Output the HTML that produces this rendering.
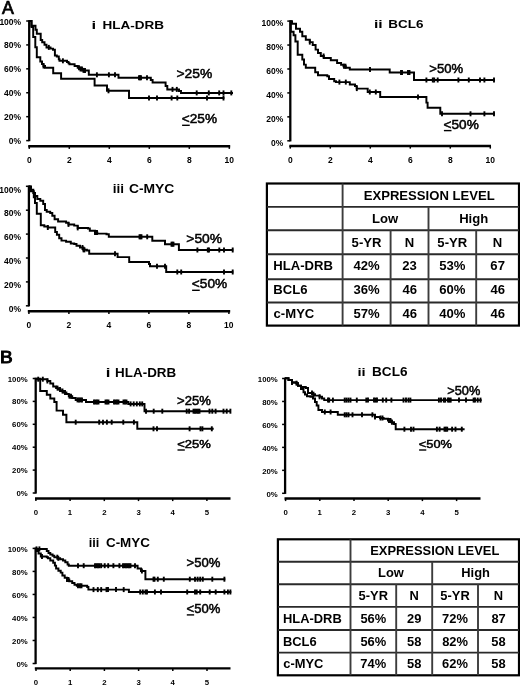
<!DOCTYPE html>
<html><head><meta charset="utf-8"><style>
html,body{margin:0;padding:0;background:#fff;width:520px;height:685px;overflow:hidden;}
svg{display:block;will-change:transform;}
text{font-family:"Liberation Sans",sans-serif;fill:#000;}
svg{stroke:#000;}
text{stroke:none;}
.gl{stroke:#000;stroke-width:0.5px;}
</style></head><body>
<svg width="520" height="685" viewBox="0 0 520 685">

<text x="1.97" y="13.50" font-size="17.44" font-weight="normal" textLength="11.87" lengthAdjust="spacingAndGlyphs" class="gl" style="stroke-width:0.7px">A</text>
<line x1="29.20" y1="20.20" x2="29.20" y2="141.20" stroke-width="2.30"/>
<line x1="26.20" y1="21.00" x2="29.20" y2="21.00" stroke-width="1.50"/>
<text x="-0.62" y="24.57" font-size="8.50" font-weight="bold" textLength="21.74" lengthAdjust="spacingAndGlyphs">100%</text>
<line x1="26.20" y1="44.92" x2="29.20" y2="44.92" stroke-width="1.50"/>
<text x="4.11" y="48.49" font-size="8.50" font-weight="bold" textLength="17.01" lengthAdjust="spacingAndGlyphs">80%</text>
<line x1="26.20" y1="68.84" x2="29.20" y2="68.84" stroke-width="1.50"/>
<text x="4.11" y="72.41" font-size="8.50" font-weight="bold" textLength="17.01" lengthAdjust="spacingAndGlyphs">60%</text>
<line x1="26.20" y1="92.76" x2="29.20" y2="92.76" stroke-width="1.50"/>
<text x="4.11" y="96.33" font-size="8.50" font-weight="bold" textLength="17.01" lengthAdjust="spacingAndGlyphs">40%</text>
<line x1="26.20" y1="116.68" x2="29.20" y2="116.68" stroke-width="1.50"/>
<text x="4.11" y="120.25" font-size="8.50" font-weight="bold" textLength="17.01" lengthAdjust="spacingAndGlyphs">20%</text>
<line x1="26.20" y1="140.60" x2="29.20" y2="140.60" stroke-width="1.50"/>
<text x="8.84" y="144.17" font-size="8.50" font-weight="bold" textLength="12.29" lengthAdjust="spacingAndGlyphs">0%</text>
<line x1="28.20" y1="146.30" x2="230.20" y2="146.30" stroke-width="2.40"/>
<line x1="29.30" y1="146.30" x2="29.30" y2="148.90" stroke-width="1.50"/>
<text x="26.94" y="163.27" font-size="8.50" font-weight="bold" textLength="4.73" lengthAdjust="spacingAndGlyphs">0</text>
<line x1="69.30" y1="146.30" x2="69.30" y2="148.90" stroke-width="1.50"/>
<text x="66.96" y="163.27" font-size="8.50" font-weight="bold" textLength="4.73" lengthAdjust="spacingAndGlyphs">2</text>
<line x1="109.30" y1="146.30" x2="109.30" y2="148.90" stroke-width="1.50"/>
<text x="106.89" y="163.27" font-size="8.50" font-weight="bold" textLength="4.73" lengthAdjust="spacingAndGlyphs">4</text>
<line x1="149.30" y1="146.30" x2="149.30" y2="148.90" stroke-width="1.50"/>
<text x="146.93" y="163.27" font-size="8.50" font-weight="bold" textLength="4.73" lengthAdjust="spacingAndGlyphs">6</text>
<line x1="189.30" y1="146.30" x2="189.30" y2="148.90" stroke-width="1.50"/>
<text x="186.93" y="163.27" font-size="8.50" font-weight="bold" textLength="4.73" lengthAdjust="spacingAndGlyphs">8</text>
<line x1="229.30" y1="146.30" x2="229.30" y2="148.90" stroke-width="1.50"/>
<text x="224.48" y="163.27" font-size="8.50" font-weight="bold" textLength="9.45" lengthAdjust="spacingAndGlyphs">10</text>
<text x="91.43" y="29.00" font-size="10.76" font-weight="bold" textLength="4.66" lengthAdjust="spacingAndGlyphs">i</text>
<text x="102.50" y="29.00" font-size="11.34" font-weight="bold" textLength="61.52" lengthAdjust="spacingAndGlyphs">HLA-DRB</text>
<path d="M29.20 21.00 H31.50 V25.80 H35.50 V29.80 H36.80 V33.80 H40.70 V40.00 H42.20 V42.30 H44.50 V44.80 H46.50 V47.40 H50.50 V48.60 H53.00 V49.80 H54.90 V55.40 H56.80 V56.50 H58.80 V59.20 H59.50 V60.80 H67.00 V62.00 H68.50 V63.20 H69.50 V64.20 H74.60 V66.00 H77.70 V67.70 H80.50 V69.00 H83.50 V70.40 H88.80 V74.80 H118.50 V77.70 H150.80 V80.00 H152.60 V82.50 H165.60 V86.00 H167.30 V89.40 H179.00 V91.00 H181.00 V92.90 H233.00" stroke-width="1.95" fill="none"/>
<line x1="48.80" y1="44.90" x2="48.80" y2="49.90" stroke-width="1.90"/>
<line x1="62.90" y1="58.30" x2="62.90" y2="63.30" stroke-width="1.90"/>
<line x1="79.00" y1="65.20" x2="79.00" y2="70.20" stroke-width="1.90"/>
<line x1="80.50" y1="66.50" x2="80.50" y2="71.50" stroke-width="1.90"/>
<line x1="82.00" y1="66.50" x2="82.00" y2="71.50" stroke-width="1.90"/>
<line x1="83.50" y1="67.90" x2="83.50" y2="72.90" stroke-width="1.90"/>
<line x1="85.00" y1="67.90" x2="85.00" y2="72.90" stroke-width="1.90"/>
<line x1="96.90" y1="72.30" x2="96.90" y2="77.30" stroke-width="1.90"/>
<line x1="108.90" y1="72.30" x2="108.90" y2="77.30" stroke-width="1.90"/>
<line x1="115.00" y1="72.30" x2="115.00" y2="77.30" stroke-width="1.90"/>
<line x1="139.00" y1="75.20" x2="139.00" y2="80.20" stroke-width="1.90"/>
<line x1="140.00" y1="75.20" x2="140.00" y2="80.20" stroke-width="1.90"/>
<line x1="141.00" y1="75.20" x2="141.00" y2="80.20" stroke-width="1.90"/>
<line x1="147.00" y1="75.20" x2="147.00" y2="80.20" stroke-width="1.90"/>
<line x1="172.50" y1="86.90" x2="172.50" y2="91.90" stroke-width="1.90"/>
<line x1="176.80" y1="86.90" x2="176.80" y2="91.90" stroke-width="1.90"/>
<line x1="196.70" y1="90.40" x2="196.70" y2="95.40" stroke-width="1.90"/>
<line x1="208.80" y1="90.40" x2="208.80" y2="95.40" stroke-width="1.90"/>
<line x1="219.20" y1="90.40" x2="219.20" y2="95.40" stroke-width="1.90"/>
<line x1="223.50" y1="90.40" x2="223.50" y2="95.40" stroke-width="1.90"/>
<line x1="231.30" y1="90.40" x2="231.30" y2="95.40" stroke-width="1.90"/>
<path d="M29.20 21.00 H31.50 V27.00 H33.20 V37.00 H35.30 V47.30 H36.80 V57.30 H40.30 V61.50 H42.00 V64.00 H43.50 V66.00 H45.00 V67.70 H53.20 V73.20 H61.10 V78.80 H94.60 V85.40 H107.00 V90.80 H129.00 V98.00 H224.40" stroke-width="1.95" fill="none"/>
<line x1="43.50" y1="63.50" x2="43.50" y2="68.50" stroke-width="1.90"/>
<line x1="108.50" y1="88.30" x2="108.50" y2="93.30" stroke-width="1.90"/>
<line x1="149.00" y1="95.50" x2="149.00" y2="100.50" stroke-width="1.90"/>
<line x1="157.00" y1="95.50" x2="157.00" y2="100.50" stroke-width="1.90"/>
<line x1="171.60" y1="95.50" x2="171.60" y2="100.50" stroke-width="1.90"/>
<line x1="177.30" y1="95.50" x2="177.30" y2="100.50" stroke-width="1.90"/>
<line x1="207.00" y1="95.50" x2="207.00" y2="100.50" stroke-width="1.90"/>
<line x1="223.50" y1="95.50" x2="223.50" y2="100.50" stroke-width="1.90"/>
<text x="176.52" y="77.90" font-size="13.18" font-weight="normal" textLength="35.78" lengthAdjust="spacingAndGlyphs" class="gl">&gt;25%</text>
<text x="181.83" y="123.00" font-size="12.89" font-weight="normal" textLength="35.26" lengthAdjust="spacingAndGlyphs" class="gl">&lt;25%</text>
<line x1="182.10" y1="125.30" x2="189.73" y2="125.30" stroke-width="1.40"/>
<line x1="290.30" y1="20.30" x2="290.30" y2="141.40" stroke-width="2.30"/>
<line x1="287.30" y1="21.10" x2="290.30" y2="21.10" stroke-width="1.50"/>
<text x="261.48" y="26.47" font-size="8.50" font-weight="bold" textLength="21.74" lengthAdjust="spacingAndGlyphs">100%</text>
<line x1="287.30" y1="45.04" x2="290.30" y2="45.04" stroke-width="1.50"/>
<text x="266.21" y="50.41" font-size="8.50" font-weight="bold" textLength="17.01" lengthAdjust="spacingAndGlyphs">80%</text>
<line x1="287.30" y1="68.98" x2="290.30" y2="68.98" stroke-width="1.50"/>
<text x="266.21" y="74.35" font-size="8.50" font-weight="bold" textLength="17.01" lengthAdjust="spacingAndGlyphs">60%</text>
<line x1="287.30" y1="92.92" x2="290.30" y2="92.92" stroke-width="1.50"/>
<text x="266.21" y="98.29" font-size="8.50" font-weight="bold" textLength="17.01" lengthAdjust="spacingAndGlyphs">40%</text>
<line x1="287.30" y1="116.86" x2="290.30" y2="116.86" stroke-width="1.50"/>
<text x="266.21" y="122.23" font-size="8.50" font-weight="bold" textLength="17.01" lengthAdjust="spacingAndGlyphs">20%</text>
<line x1="287.30" y1="140.80" x2="290.30" y2="140.80" stroke-width="1.50"/>
<text x="270.94" y="146.17" font-size="8.50" font-weight="bold" textLength="12.29" lengthAdjust="spacingAndGlyphs">0%</text>
<line x1="289.30" y1="146.00" x2="491.00" y2="146.00" stroke-width="2.40"/>
<line x1="290.30" y1="146.00" x2="290.30" y2="148.60" stroke-width="1.50"/>
<text x="287.94" y="163.27" font-size="8.50" font-weight="bold" textLength="4.73" lengthAdjust="spacingAndGlyphs">0</text>
<line x1="330.30" y1="146.00" x2="330.30" y2="148.60" stroke-width="1.50"/>
<text x="327.96" y="163.27" font-size="8.50" font-weight="bold" textLength="4.73" lengthAdjust="spacingAndGlyphs">2</text>
<line x1="370.30" y1="146.00" x2="370.30" y2="148.60" stroke-width="1.50"/>
<text x="367.89" y="163.27" font-size="8.50" font-weight="bold" textLength="4.73" lengthAdjust="spacingAndGlyphs">4</text>
<line x1="410.30" y1="146.00" x2="410.30" y2="148.60" stroke-width="1.50"/>
<text x="407.93" y="163.27" font-size="8.50" font-weight="bold" textLength="4.73" lengthAdjust="spacingAndGlyphs">6</text>
<line x1="450.30" y1="146.00" x2="450.30" y2="148.60" stroke-width="1.50"/>
<text x="447.93" y="163.27" font-size="8.50" font-weight="bold" textLength="4.73" lengthAdjust="spacingAndGlyphs">8</text>
<line x1="490.30" y1="146.00" x2="490.30" y2="148.60" stroke-width="1.50"/>
<text x="485.48" y="163.27" font-size="8.50" font-weight="bold" textLength="9.45" lengthAdjust="spacingAndGlyphs">10</text>
<text x="373.91" y="28.20" font-size="10.49" font-weight="bold" textLength="8.70" lengthAdjust="spacingAndGlyphs">ii</text>
<text x="388.30" y="28.20" font-size="10.88" font-weight="bold" textLength="35.19" lengthAdjust="spacingAndGlyphs">BCL6</text>
<path d="M290.30 21.20 H292.00 V23.70 H296.00 V28.80 H300.00 V31.70 H302.30 V36.30 H305.80 V39.80 H309.80 V42.10 H312.70 V45.00 H315.60 V49.60 H318.00 V53.00 H320.80 V56.00 H323.80 V57.90 H330.80 V60.20 H337.10 V63.00 H341.10 V64.80 H343.50 V66.20 H345.80 V67.70 H349.80 V69.40 H389.70 V72.50 H414.00 V80.00 H494.80" stroke-width="1.95" fill="none"/>
<line x1="309.80" y1="39.60" x2="309.80" y2="44.60" stroke-width="1.90"/>
<line x1="323.60" y1="53.50" x2="323.60" y2="58.50" stroke-width="1.90"/>
<line x1="344.00" y1="63.70" x2="344.00" y2="68.70" stroke-width="1.90"/>
<line x1="345.50" y1="63.70" x2="345.50" y2="68.70" stroke-width="1.90"/>
<line x1="370.00" y1="66.90" x2="370.00" y2="71.90" stroke-width="1.90"/>
<line x1="401.00" y1="70.00" x2="401.00" y2="75.00" stroke-width="1.90"/>
<line x1="402.00" y1="70.00" x2="402.00" y2="75.00" stroke-width="1.90"/>
<line x1="408.00" y1="70.00" x2="408.00" y2="75.00" stroke-width="1.90"/>
<line x1="409.50" y1="70.00" x2="409.50" y2="75.00" stroke-width="1.90"/>
<line x1="426.40" y1="77.50" x2="426.40" y2="82.50" stroke-width="1.90"/>
<line x1="432.80" y1="77.50" x2="432.80" y2="82.50" stroke-width="1.90"/>
<line x1="434.20" y1="77.50" x2="434.20" y2="82.50" stroke-width="1.90"/>
<line x1="437.70" y1="77.50" x2="437.70" y2="82.50" stroke-width="1.90"/>
<line x1="458.40" y1="77.50" x2="458.40" y2="82.50" stroke-width="1.90"/>
<line x1="468.80" y1="77.50" x2="468.80" y2="82.50" stroke-width="1.90"/>
<line x1="480.00" y1="77.50" x2="480.00" y2="82.50" stroke-width="1.90"/>
<line x1="484.40" y1="77.50" x2="484.40" y2="82.50" stroke-width="1.90"/>
<line x1="494.00" y1="77.50" x2="494.00" y2="82.50" stroke-width="1.90"/>
<path d="M290.30 21.20 H290.80 V31.70 H293.60 V35.20 H295.40 V41.50 H297.70 V54.80 H302.30 V59.40 H304.00 V64.60 H305.80 V67.70 H315.20 V72.30 H318.00 V75.20 H327.30 V76.30 H329.00 V79.00 H334.20 V81.20 H336.00 V82.10 H349.80 V84.40 H355.00 V86.00 H356.70 V88.60 H367.70 V92.00 H380.20 V97.00 H426.40 V102.60 H427.60 V107.80 H440.30 V113.80 H494.80" stroke-width="1.95" fill="none"/>
<line x1="339.40" y1="79.60" x2="339.40" y2="84.60" stroke-width="1.90"/>
<line x1="345.80" y1="79.60" x2="345.80" y2="84.60" stroke-width="1.90"/>
<line x1="356.80" y1="86.10" x2="356.80" y2="91.10" stroke-width="1.90"/>
<line x1="369.80" y1="89.50" x2="369.80" y2="94.50" stroke-width="1.90"/>
<line x1="375.80" y1="89.50" x2="375.80" y2="94.50" stroke-width="1.90"/>
<line x1="418.00" y1="94.50" x2="418.00" y2="99.50" stroke-width="1.90"/>
<line x1="442.00" y1="111.30" x2="442.00" y2="116.30" stroke-width="1.90"/>
<line x1="470.50" y1="111.30" x2="470.50" y2="116.30" stroke-width="1.90"/>
<line x1="484.40" y1="111.30" x2="484.40" y2="116.30" stroke-width="1.90"/>
<line x1="494.00" y1="111.30" x2="494.00" y2="116.30" stroke-width="1.90"/>
<text x="429.35" y="73.20" font-size="12.46" font-weight="normal" textLength="33.91" lengthAdjust="spacingAndGlyphs" class="gl">&gt;50%</text>
<text x="443.63" y="128.50" font-size="12.32" font-weight="normal" textLength="35.16" lengthAdjust="spacingAndGlyphs" class="gl">&lt;50%</text>
<line x1="443.90" y1="130.60" x2="451.51" y2="130.60" stroke-width="1.40"/>
<line x1="28.90" y1="185.50" x2="28.90" y2="306.40" stroke-width="2.30"/>
<line x1="25.90" y1="186.30" x2="28.90" y2="186.30" stroke-width="1.50"/>
<text x="-0.72" y="192.57" font-size="8.50" font-weight="bold" textLength="21.74" lengthAdjust="spacingAndGlyphs">100%</text>
<line x1="25.90" y1="210.20" x2="28.90" y2="210.20" stroke-width="1.50"/>
<text x="4.01" y="216.47" font-size="8.50" font-weight="bold" textLength="17.01" lengthAdjust="spacingAndGlyphs">80%</text>
<line x1="25.90" y1="234.10" x2="28.90" y2="234.10" stroke-width="1.50"/>
<text x="4.01" y="240.37" font-size="8.50" font-weight="bold" textLength="17.01" lengthAdjust="spacingAndGlyphs">60%</text>
<line x1="25.90" y1="258.00" x2="28.90" y2="258.00" stroke-width="1.50"/>
<text x="4.01" y="264.27" font-size="8.50" font-weight="bold" textLength="17.01" lengthAdjust="spacingAndGlyphs">40%</text>
<line x1="25.90" y1="281.90" x2="28.90" y2="281.90" stroke-width="1.50"/>
<text x="4.01" y="288.17" font-size="8.50" font-weight="bold" textLength="17.01" lengthAdjust="spacingAndGlyphs">20%</text>
<line x1="25.90" y1="305.80" x2="28.90" y2="305.80" stroke-width="1.50"/>
<text x="8.74" y="312.07" font-size="8.50" font-weight="bold" textLength="12.29" lengthAdjust="spacingAndGlyphs">0%</text>
<line x1="27.80" y1="311.30" x2="230.20" y2="311.30" stroke-width="2.40"/>
<line x1="28.90" y1="311.30" x2="28.90" y2="313.90" stroke-width="1.50"/>
<text x="26.54" y="328.47" font-size="8.50" font-weight="bold" textLength="4.73" lengthAdjust="spacingAndGlyphs">0</text>
<line x1="68.90" y1="311.30" x2="68.90" y2="313.90" stroke-width="1.50"/>
<text x="66.56" y="328.47" font-size="8.50" font-weight="bold" textLength="4.73" lengthAdjust="spacingAndGlyphs">2</text>
<line x1="108.90" y1="311.30" x2="108.90" y2="313.90" stroke-width="1.50"/>
<text x="106.49" y="328.47" font-size="8.50" font-weight="bold" textLength="4.73" lengthAdjust="spacingAndGlyphs">4</text>
<line x1="148.90" y1="311.30" x2="148.90" y2="313.90" stroke-width="1.50"/>
<text x="146.53" y="328.47" font-size="8.50" font-weight="bold" textLength="4.73" lengthAdjust="spacingAndGlyphs">6</text>
<line x1="188.90" y1="311.30" x2="188.90" y2="313.90" stroke-width="1.50"/>
<text x="186.53" y="328.47" font-size="8.50" font-weight="bold" textLength="4.73" lengthAdjust="spacingAndGlyphs">8</text>
<line x1="228.90" y1="311.30" x2="228.90" y2="313.90" stroke-width="1.50"/>
<text x="224.08" y="328.47" font-size="8.50" font-weight="bold" textLength="9.45" lengthAdjust="spacingAndGlyphs">10</text>
<text x="112.75" y="193.10" font-size="12.01" font-weight="bold" textLength="11.31" lengthAdjust="spacingAndGlyphs">iii</text>
<text x="128.93" y="193.10" font-size="12.46" font-weight="bold" textLength="45.45" lengthAdjust="spacingAndGlyphs">C-MYC</text>
<path d="M28.90 186.50 H30.30 V189.60 H33.30 V193.00 H35.00 V196.00 H37.30 V199.00 H40.30 V200.70 H43.20 V204.00 H45.00 V210.00 H46.70 V211.80 H50.20 V213.00 H52.30 V215.80 H54.60 V219.20 H58.10 V221.50 H66.10 V222.70 H68.50 V224.40 H74.20 V225.60 H77.70 V227.90 H88.00 V228.50 H89.80 V230.80 H95.00 V232.50 H97.30 V233.60 H106.50 V234.20 H108.80 V236.80 H152.30 V240.80 H165.00 V244.20 H178.90 V250.00 H233.20" stroke-width="1.95" fill="none"/>
<line x1="68.50" y1="221.90" x2="68.50" y2="226.90" stroke-width="1.90"/>
<line x1="77.70" y1="225.40" x2="77.70" y2="230.40" stroke-width="1.90"/>
<line x1="95.00" y1="230.00" x2="95.00" y2="235.00" stroke-width="1.90"/>
<line x1="96.00" y1="230.00" x2="96.00" y2="235.00" stroke-width="1.90"/>
<line x1="97.00" y1="230.00" x2="97.00" y2="235.00" stroke-width="1.90"/>
<line x1="139.50" y1="234.30" x2="139.50" y2="239.30" stroke-width="1.90"/>
<line x1="140.50" y1="234.30" x2="140.50" y2="239.30" stroke-width="1.90"/>
<line x1="141.50" y1="234.30" x2="141.50" y2="239.30" stroke-width="1.90"/>
<line x1="147.20" y1="234.30" x2="147.20" y2="239.30" stroke-width="1.90"/>
<line x1="171.50" y1="241.70" x2="171.50" y2="246.70" stroke-width="1.90"/>
<line x1="172.50" y1="241.70" x2="172.50" y2="246.70" stroke-width="1.90"/>
<line x1="173.50" y1="241.70" x2="173.50" y2="246.70" stroke-width="1.90"/>
<line x1="197.40" y1="247.50" x2="197.40" y2="252.50" stroke-width="1.90"/>
<line x1="207.80" y1="247.50" x2="207.80" y2="252.50" stroke-width="1.90"/>
<line x1="209.00" y1="247.50" x2="209.00" y2="252.50" stroke-width="1.90"/>
<line x1="219.30" y1="247.50" x2="219.30" y2="252.50" stroke-width="1.90"/>
<line x1="224.00" y1="247.50" x2="224.00" y2="252.50" stroke-width="1.90"/>
<line x1="232.70" y1="247.50" x2="232.70" y2="252.50" stroke-width="1.90"/>
<path d="M28.90 186.50 H31.00 V191.30 H33.80 V197.20 H35.00 V203.00 H36.80 V213.80 H40.80 V225.20 H44.30 V226.50 H47.80 V227.50 H55.20 V231.90 H56.90 V234.80 H59.20 V238.30 H61.50 V240.60 H66.10 V241.70 H70.80 V243.40 H74.20 V244.00 H76.50 V245.80 H80.00 V247.50 H83.40 V249.80 H86.90 V250.40 H89.20 V253.80 H117.60 V257.10 H129.20 V262.00 H149.00 V264.00 H150.00 V266.20 H166.20 V272.00 H233.20" stroke-width="1.95" fill="none"/>
<line x1="47.80" y1="225.00" x2="47.80" y2="230.00" stroke-width="1.90"/>
<line x1="82.50" y1="245.00" x2="82.50" y2="250.00" stroke-width="1.90"/>
<line x1="83.50" y1="247.30" x2="83.50" y2="252.30" stroke-width="1.90"/>
<line x1="84.50" y1="247.30" x2="84.50" y2="252.30" stroke-width="1.90"/>
<line x1="115.00" y1="251.30" x2="115.00" y2="256.30" stroke-width="1.90"/>
<line x1="157.00" y1="263.70" x2="157.00" y2="268.70" stroke-width="1.90"/>
<line x1="165.00" y1="263.70" x2="165.00" y2="268.70" stroke-width="1.90"/>
<line x1="177.30" y1="269.50" x2="177.30" y2="274.50" stroke-width="1.90"/>
<line x1="181.20" y1="269.50" x2="181.20" y2="274.50" stroke-width="1.90"/>
<line x1="224.00" y1="269.50" x2="224.00" y2="274.50" stroke-width="1.90"/>
<line x1="232.70" y1="269.50" x2="232.70" y2="274.50" stroke-width="1.90"/>
<text x="186.32" y="243.00" font-size="13.03" font-weight="normal" textLength="35.78" lengthAdjust="spacingAndGlyphs" class="gl">&gt;50%</text>
<text x="191.83" y="288.20" font-size="13.61" font-weight="normal" textLength="35.36" lengthAdjust="spacingAndGlyphs" class="gl">&lt;50%</text>
<line x1="192.10" y1="290.30" x2="199.74" y2="290.30" stroke-width="1.40"/>
<rect x="266.90" y="183.50" width="252.10" height="142.10" fill="none" stroke-width="2.20"/>
<g style="stroke:#2a2a2a">
<line x1="266.90" y1="206.90" x2="519.00" y2="206.90" stroke-width="1.90"/>
<line x1="266.90" y1="230.20" x2="519.00" y2="230.20" stroke-width="1.90"/>
<line x1="266.90" y1="254.20" x2="519.00" y2="254.20" stroke-width="1.90"/>
<line x1="266.90" y1="279.20" x2="519.00" y2="279.20" stroke-width="1.90"/>
<line x1="266.90" y1="302.50" x2="519.00" y2="302.50" stroke-width="1.90"/>
</g><g style="stroke:#3c3c3c">
<line x1="342.60" y1="183.50" x2="342.60" y2="325.60" stroke-width="1.90"/>
<line x1="428.50" y1="206.90" x2="428.50" y2="325.60" stroke-width="1.90"/>
<line x1="390.60" y1="230.20" x2="390.60" y2="325.60" stroke-width="1.90"/>
<line x1="476.20" y1="230.20" x2="476.20" y2="325.60" stroke-width="1.90"/>
</g>
<text x="363.70" y="199.50" font-size="13.10" font-weight="bold" textLength="131.03" lengthAdjust="spacingAndGlyphs">EXPRESSION LEVEL</text>
<text x="372.00" y="223.20" font-size="13.10" font-weight="bold" textLength="26.19" lengthAdjust="spacingAndGlyphs">Low</text>
<text x="459.17" y="223.20" font-size="13.10" font-weight="bold" textLength="29.10" lengthAdjust="spacingAndGlyphs">High</text>
<text x="351.61" y="246.90" font-size="13.10" font-weight="bold" textLength="29.85" lengthAdjust="spacingAndGlyphs">5-YR</text>
<text x="404.82" y="246.90" font-size="13.10" font-weight="bold" textLength="9.46" lengthAdjust="spacingAndGlyphs">N</text>
<text x="437.36" y="246.90" font-size="13.10" font-weight="bold" textLength="29.85" lengthAdjust="spacingAndGlyphs">5-YR</text>
<text x="492.87" y="246.90" font-size="13.10" font-weight="bold" textLength="9.46" lengthAdjust="spacingAndGlyphs">N</text>
<text x="273.22" y="270.10" font-size="13.10" font-weight="bold" textLength="59.67" lengthAdjust="spacingAndGlyphs">HLA-DRB</text>
<text x="353.56" y="270.10" font-size="13.10" font-weight="bold" textLength="26.22" lengthAdjust="spacingAndGlyphs">42%</text>
<text x="402.27" y="270.10" font-size="13.10" font-weight="bold" textLength="14.57" lengthAdjust="spacingAndGlyphs">23</text>
<text x="439.21" y="270.10" font-size="13.10" font-weight="bold" textLength="26.22" lengthAdjust="spacingAndGlyphs">53%</text>
<text x="490.36" y="270.10" font-size="13.10" font-weight="bold" textLength="14.57" lengthAdjust="spacingAndGlyphs">67</text>
<text x="273.22" y="294.10" font-size="13.10" font-weight="bold" textLength="34.21" lengthAdjust="spacingAndGlyphs">BCL6</text>
<text x="353.51" y="294.10" font-size="13.10" font-weight="bold" textLength="26.22" lengthAdjust="spacingAndGlyphs">36%</text>
<text x="402.40" y="294.10" font-size="13.10" font-weight="bold" textLength="14.57" lengthAdjust="spacingAndGlyphs">46</text>
<text x="439.17" y="294.10" font-size="13.10" font-weight="bold" textLength="26.22" lengthAdjust="spacingAndGlyphs">60%</text>
<text x="490.45" y="294.10" font-size="13.10" font-weight="bold" textLength="14.57" lengthAdjust="spacingAndGlyphs">46</text>
<text x="273.59" y="317.80" font-size="13.10" font-weight="bold" textLength="40.76" lengthAdjust="spacingAndGlyphs">c-MYC</text>
<text x="353.46" y="317.80" font-size="13.10" font-weight="bold" textLength="26.22" lengthAdjust="spacingAndGlyphs">57%</text>
<text x="402.40" y="317.80" font-size="13.10" font-weight="bold" textLength="14.57" lengthAdjust="spacingAndGlyphs">46</text>
<text x="439.31" y="317.80" font-size="13.10" font-weight="bold" textLength="26.22" lengthAdjust="spacingAndGlyphs">40%</text>
<text x="490.45" y="317.80" font-size="13.10" font-weight="bold" textLength="14.57" lengthAdjust="spacingAndGlyphs">46</text>
<text x="0.04" y="362.90" font-size="16.42" font-weight="normal" textLength="12.66" lengthAdjust="spacingAndGlyphs" class="gl" style="stroke-width:0.9px">B</text>
<line x1="35.70" y1="377.70" x2="35.70" y2="493.60" stroke-width="2.30"/>
<line x1="32.70" y1="378.50" x2="35.70" y2="378.50" stroke-width="1.50"/>
<text x="7.76" y="381.52" font-size="7.80" font-weight="bold" textLength="19.95" lengthAdjust="spacingAndGlyphs">100%</text>
<line x1="32.70" y1="401.40" x2="35.70" y2="401.40" stroke-width="1.50"/>
<text x="12.09" y="404.42" font-size="7.80" font-weight="bold" textLength="15.61" lengthAdjust="spacingAndGlyphs">80%</text>
<line x1="32.70" y1="424.30" x2="35.70" y2="424.30" stroke-width="1.50"/>
<text x="12.09" y="427.32" font-size="7.80" font-weight="bold" textLength="15.61" lengthAdjust="spacingAndGlyphs">60%</text>
<line x1="32.70" y1="447.20" x2="35.70" y2="447.20" stroke-width="1.50"/>
<text x="12.09" y="450.22" font-size="7.80" font-weight="bold" textLength="15.61" lengthAdjust="spacingAndGlyphs">40%</text>
<line x1="32.70" y1="470.10" x2="35.70" y2="470.10" stroke-width="1.50"/>
<text x="12.09" y="473.12" font-size="7.80" font-weight="bold" textLength="15.61" lengthAdjust="spacingAndGlyphs">20%</text>
<line x1="32.70" y1="493.00" x2="35.70" y2="493.00" stroke-width="1.50"/>
<text x="16.43" y="496.02" font-size="7.80" font-weight="bold" textLength="11.27" lengthAdjust="spacingAndGlyphs">0%</text>
<line x1="35.00" y1="498.50" x2="230.50" y2="498.50" stroke-width="2.40"/>
<line x1="35.90" y1="498.50" x2="35.90" y2="501.10" stroke-width="1.50"/>
<text x="33.74" y="514.92" font-size="7.80" font-weight="bold" textLength="4.34" lengthAdjust="spacingAndGlyphs">0</text>
<line x1="70.10" y1="498.50" x2="70.10" y2="501.10" stroke-width="1.50"/>
<text x="67.79" y="514.92" font-size="7.80" font-weight="bold" textLength="4.34" lengthAdjust="spacingAndGlyphs">1</text>
<line x1="104.30" y1="498.50" x2="104.30" y2="501.10" stroke-width="1.50"/>
<text x="102.15" y="514.92" font-size="7.80" font-weight="bold" textLength="4.34" lengthAdjust="spacingAndGlyphs">2</text>
<line x1="138.50" y1="498.50" x2="138.50" y2="501.10" stroke-width="1.50"/>
<text x="136.38" y="514.92" font-size="7.80" font-weight="bold" textLength="4.34" lengthAdjust="spacingAndGlyphs">3</text>
<line x1="172.70" y1="498.50" x2="172.70" y2="501.10" stroke-width="1.50"/>
<text x="170.49" y="514.92" font-size="7.80" font-weight="bold" textLength="4.34" lengthAdjust="spacingAndGlyphs">4</text>
<line x1="206.90" y1="498.50" x2="206.90" y2="501.10" stroke-width="1.50"/>
<text x="204.72" y="514.92" font-size="7.80" font-weight="bold" textLength="4.34" lengthAdjust="spacingAndGlyphs">5</text>
<text x="105.73" y="377.30" font-size="11.87" font-weight="bold" textLength="4.66" lengthAdjust="spacingAndGlyphs">i</text>
<text x="115.10" y="377.30" font-size="12.50" font-weight="bold" textLength="61.11" lengthAdjust="spacingAndGlyphs">HLA-DRB</text>
<path d="M35.70 379.20 H47.40 V381.00 H50.30 V383.50 H53.20 V386.40 H56.10 V388.10 H58.50 V389.50 H60.70 V391.00 H63.50 V392.50 H66.40 V393.90 H68.80 V396.20 H72.20 V398.00 H75.70 V399.90 H86.00 V402.00 H128.30 V403.90 H144.50 V411.20 H230.80" stroke-width="1.95" fill="none"/>
<line x1="38.20" y1="376.70" x2="38.20" y2="381.70" stroke-width="1.90"/>
<line x1="42.80" y1="376.70" x2="42.80" y2="381.70" stroke-width="1.90"/>
<line x1="47.40" y1="378.50" x2="47.40" y2="383.50" stroke-width="1.90"/>
<line x1="57.50" y1="385.60" x2="57.50" y2="390.60" stroke-width="1.90"/>
<line x1="60.00" y1="387.00" x2="60.00" y2="392.00" stroke-width="1.90"/>
<line x1="62.50" y1="388.50" x2="62.50" y2="393.50" stroke-width="1.90"/>
<line x1="65.00" y1="390.00" x2="65.00" y2="395.00" stroke-width="1.90"/>
<line x1="69.50" y1="393.70" x2="69.50" y2="398.70" stroke-width="1.90"/>
<line x1="71.00" y1="393.70" x2="71.00" y2="398.70" stroke-width="1.90"/>
<line x1="77.50" y1="397.40" x2="77.50" y2="402.40" stroke-width="1.90"/>
<line x1="79.00" y1="397.40" x2="79.00" y2="402.40" stroke-width="1.90"/>
<line x1="80.50" y1="397.40" x2="80.50" y2="402.40" stroke-width="1.90"/>
<line x1="82.00" y1="397.40" x2="82.00" y2="402.40" stroke-width="1.90"/>
<line x1="94.00" y1="399.50" x2="94.00" y2="404.50" stroke-width="1.90"/>
<line x1="95.50" y1="399.50" x2="95.50" y2="404.50" stroke-width="1.90"/>
<line x1="97.00" y1="399.50" x2="97.00" y2="404.50" stroke-width="1.90"/>
<line x1="98.50" y1="399.50" x2="98.50" y2="404.50" stroke-width="1.90"/>
<line x1="105.50" y1="399.50" x2="105.50" y2="404.50" stroke-width="1.90"/>
<line x1="107.00" y1="399.50" x2="107.00" y2="404.50" stroke-width="1.90"/>
<line x1="108.50" y1="399.50" x2="108.50" y2="404.50" stroke-width="1.90"/>
<line x1="114.00" y1="399.50" x2="114.00" y2="404.50" stroke-width="1.90"/>
<line x1="115.50" y1="399.50" x2="115.50" y2="404.50" stroke-width="1.90"/>
<line x1="117.00" y1="399.50" x2="117.00" y2="404.50" stroke-width="1.90"/>
<line x1="118.50" y1="399.50" x2="118.50" y2="404.50" stroke-width="1.90"/>
<line x1="123.50" y1="399.50" x2="123.50" y2="404.50" stroke-width="1.90"/>
<line x1="125.00" y1="399.50" x2="125.00" y2="404.50" stroke-width="1.90"/>
<line x1="126.50" y1="399.50" x2="126.50" y2="404.50" stroke-width="1.90"/>
<line x1="130.60" y1="401.40" x2="130.60" y2="406.40" stroke-width="1.90"/>
<line x1="133.70" y1="401.40" x2="133.70" y2="406.40" stroke-width="1.90"/>
<line x1="136.80" y1="401.40" x2="136.80" y2="406.40" stroke-width="1.90"/>
<line x1="139.80" y1="401.40" x2="139.80" y2="406.40" stroke-width="1.90"/>
<line x1="142.20" y1="401.40" x2="142.20" y2="406.40" stroke-width="1.90"/>
<line x1="146.00" y1="408.70" x2="146.00" y2="413.70" stroke-width="1.90"/>
<line x1="153.70" y1="408.70" x2="153.70" y2="413.70" stroke-width="1.90"/>
<line x1="162.30" y1="408.70" x2="162.30" y2="413.70" stroke-width="1.90"/>
<line x1="186.70" y1="408.70" x2="186.70" y2="413.70" stroke-width="1.90"/>
<line x1="189.10" y1="408.70" x2="189.10" y2="413.70" stroke-width="1.90"/>
<line x1="193.50" y1="408.70" x2="193.50" y2="413.70" stroke-width="1.90"/>
<line x1="195.00" y1="408.70" x2="195.00" y2="413.70" stroke-width="1.90"/>
<line x1="196.50" y1="408.70" x2="196.50" y2="413.70" stroke-width="1.90"/>
<line x1="198.00" y1="408.70" x2="198.00" y2="413.70" stroke-width="1.90"/>
<line x1="199.50" y1="408.70" x2="199.50" y2="413.70" stroke-width="1.90"/>
<line x1="209.50" y1="408.70" x2="209.50" y2="413.70" stroke-width="1.90"/>
<line x1="212.30" y1="408.70" x2="212.30" y2="413.70" stroke-width="1.90"/>
<line x1="215.60" y1="408.70" x2="215.60" y2="413.70" stroke-width="1.90"/>
<line x1="223.50" y1="408.70" x2="223.50" y2="413.70" stroke-width="1.90"/>
<line x1="226.70" y1="408.70" x2="226.70" y2="413.70" stroke-width="1.90"/>
<line x1="230.40" y1="408.70" x2="230.40" y2="413.70" stroke-width="1.90"/>
<path d="M35.70 378.80 H40.20 V391.00 H46.80 V394.70 H50.30 V398.50 H54.30 V402.00 H56.60 V410.60 H63.00 V414.70 H66.40 V422.20 H137.30 V428.80 H213.70" stroke-width="1.95" fill="none"/>
<line x1="75.70" y1="419.70" x2="75.70" y2="424.70" stroke-width="1.90"/>
<line x1="99.20" y1="419.70" x2="99.20" y2="424.70" stroke-width="1.90"/>
<line x1="103.00" y1="419.70" x2="103.00" y2="424.70" stroke-width="1.90"/>
<line x1="106.90" y1="419.70" x2="106.90" y2="424.70" stroke-width="1.90"/>
<line x1="111.70" y1="419.70" x2="111.70" y2="424.70" stroke-width="1.90"/>
<line x1="123.30" y1="419.70" x2="123.30" y2="424.70" stroke-width="1.90"/>
<line x1="133.90" y1="419.70" x2="133.90" y2="424.70" stroke-width="1.90"/>
<line x1="153.50" y1="426.30" x2="153.50" y2="431.30" stroke-width="1.90"/>
<line x1="157.00" y1="426.30" x2="157.00" y2="431.30" stroke-width="1.90"/>
<line x1="189.60" y1="426.30" x2="189.60" y2="431.30" stroke-width="1.90"/>
<line x1="200.50" y1="426.30" x2="200.50" y2="431.30" stroke-width="1.90"/>
<line x1="202.40" y1="426.30" x2="202.40" y2="431.30" stroke-width="1.90"/>
<line x1="211.80" y1="426.30" x2="211.80" y2="431.30" stroke-width="1.90"/>
<text x="177.06" y="404.70" font-size="12.17" font-weight="normal" textLength="33.81" lengthAdjust="spacingAndGlyphs" class="gl">&gt;25%</text>
<text x="177.26" y="447.90" font-size="10.88" font-weight="normal" textLength="33.60" lengthAdjust="spacingAndGlyphs" class="gl">&lt;25%</text>
<line x1="177.50" y1="450.00" x2="184.81" y2="450.00" stroke-width="1.40"/>
<line x1="285.10" y1="377.70" x2="285.10" y2="493.90" stroke-width="2.30"/>
<line x1="282.10" y1="378.50" x2="285.10" y2="378.50" stroke-width="1.50"/>
<text x="257.86" y="382.22" font-size="7.80" font-weight="bold" textLength="19.95" lengthAdjust="spacingAndGlyphs">100%</text>
<line x1="282.10" y1="401.46" x2="285.10" y2="401.46" stroke-width="1.50"/>
<text x="262.19" y="405.18" font-size="7.80" font-weight="bold" textLength="15.61" lengthAdjust="spacingAndGlyphs">80%</text>
<line x1="282.10" y1="424.42" x2="285.10" y2="424.42" stroke-width="1.50"/>
<text x="262.19" y="428.14" font-size="7.80" font-weight="bold" textLength="15.61" lengthAdjust="spacingAndGlyphs">60%</text>
<line x1="282.10" y1="447.38" x2="285.10" y2="447.38" stroke-width="1.50"/>
<text x="262.19" y="451.10" font-size="7.80" font-weight="bold" textLength="15.61" lengthAdjust="spacingAndGlyphs">40%</text>
<line x1="282.10" y1="470.34" x2="285.10" y2="470.34" stroke-width="1.50"/>
<text x="262.19" y="474.06" font-size="7.80" font-weight="bold" textLength="15.61" lengthAdjust="spacingAndGlyphs">20%</text>
<line x1="282.10" y1="493.30" x2="285.10" y2="493.30" stroke-width="1.50"/>
<text x="266.53" y="497.02" font-size="7.80" font-weight="bold" textLength="11.27" lengthAdjust="spacingAndGlyphs">0%</text>
<line x1="284.50" y1="498.50" x2="480.50" y2="498.50" stroke-width="2.40"/>
<line x1="285.60" y1="498.50" x2="285.60" y2="501.10" stroke-width="1.50"/>
<text x="283.44" y="514.92" font-size="7.80" font-weight="bold" textLength="4.34" lengthAdjust="spacingAndGlyphs">0</text>
<line x1="319.80" y1="498.50" x2="319.80" y2="501.10" stroke-width="1.50"/>
<text x="317.49" y="514.92" font-size="7.80" font-weight="bold" textLength="4.34" lengthAdjust="spacingAndGlyphs">1</text>
<line x1="354.00" y1="498.50" x2="354.00" y2="501.10" stroke-width="1.50"/>
<text x="351.85" y="514.92" font-size="7.80" font-weight="bold" textLength="4.34" lengthAdjust="spacingAndGlyphs">2</text>
<line x1="388.20" y1="498.50" x2="388.20" y2="501.10" stroke-width="1.50"/>
<text x="386.08" y="514.92" font-size="7.80" font-weight="bold" textLength="4.34" lengthAdjust="spacingAndGlyphs">3</text>
<line x1="422.40" y1="498.50" x2="422.40" y2="501.10" stroke-width="1.50"/>
<text x="420.19" y="514.92" font-size="7.80" font-weight="bold" textLength="4.34" lengthAdjust="spacingAndGlyphs">4</text>
<line x1="456.60" y1="498.50" x2="456.60" y2="501.10" stroke-width="1.50"/>
<text x="454.42" y="514.92" font-size="7.80" font-weight="bold" textLength="4.34" lengthAdjust="spacingAndGlyphs">5</text>
<text x="357.47" y="376.20" font-size="11.73" font-weight="bold" textLength="8.17" lengthAdjust="spacingAndGlyphs">ii</text>
<text x="372.09" y="376.20" font-size="12.17" font-weight="bold" textLength="35.40" lengthAdjust="spacingAndGlyphs">BCL6</text>
<path d="M284.90 378.30 H288.50 V380.00 H292.00 V382.40 H296.50 V383.20 H298.00 V385.80 H301.00 V387.00 H305.80 V388.00 H308.00 V393.00 H312.70 V394.20 H315.00 V395.60 H319.60 V396.80 H322.00 V398.50 H324.20 V400.10 H481.70" stroke-width="1.95" fill="none"/>
<line x1="292.00" y1="379.90" x2="292.00" y2="384.90" stroke-width="1.90"/>
<line x1="296.50" y1="380.70" x2="296.50" y2="385.70" stroke-width="1.90"/>
<line x1="312.00" y1="390.50" x2="312.00" y2="395.50" stroke-width="1.90"/>
<line x1="313.50" y1="391.70" x2="313.50" y2="396.70" stroke-width="1.90"/>
<line x1="319.60" y1="394.30" x2="319.60" y2="399.30" stroke-width="1.90"/>
<line x1="328.00" y1="397.60" x2="328.00" y2="402.60" stroke-width="1.90"/>
<line x1="329.20" y1="397.60" x2="329.20" y2="402.60" stroke-width="1.90"/>
<line x1="332.90" y1="397.60" x2="332.90" y2="402.60" stroke-width="1.90"/>
<line x1="344.70" y1="397.60" x2="344.70" y2="402.60" stroke-width="1.90"/>
<line x1="346.50" y1="397.60" x2="346.50" y2="402.60" stroke-width="1.90"/>
<line x1="348.50" y1="397.60" x2="348.50" y2="402.60" stroke-width="1.90"/>
<line x1="350.50" y1="397.60" x2="350.50" y2="402.60" stroke-width="1.90"/>
<line x1="356.80" y1="397.60" x2="356.80" y2="402.60" stroke-width="1.90"/>
<line x1="366.30" y1="397.60" x2="366.30" y2="402.60" stroke-width="1.90"/>
<line x1="368.00" y1="397.60" x2="368.00" y2="402.60" stroke-width="1.90"/>
<line x1="374.00" y1="397.60" x2="374.00" y2="402.60" stroke-width="1.90"/>
<line x1="375.50" y1="397.60" x2="375.50" y2="402.60" stroke-width="1.90"/>
<line x1="377.00" y1="397.60" x2="377.00" y2="402.60" stroke-width="1.90"/>
<line x1="382.80" y1="397.60" x2="382.80" y2="402.60" stroke-width="1.90"/>
<line x1="386.20" y1="397.60" x2="386.20" y2="402.60" stroke-width="1.90"/>
<line x1="391.40" y1="397.60" x2="391.40" y2="402.60" stroke-width="1.90"/>
<line x1="403.50" y1="397.60" x2="403.50" y2="402.60" stroke-width="1.90"/>
<line x1="406.00" y1="397.60" x2="406.00" y2="402.60" stroke-width="1.90"/>
<line x1="408.50" y1="397.60" x2="408.50" y2="402.60" stroke-width="1.90"/>
<line x1="410.40" y1="397.60" x2="410.40" y2="402.60" stroke-width="1.90"/>
<line x1="438.90" y1="397.60" x2="438.90" y2="402.60" stroke-width="1.90"/>
<line x1="441.00" y1="397.60" x2="441.00" y2="402.60" stroke-width="1.90"/>
<line x1="443.80" y1="397.60" x2="443.80" y2="402.60" stroke-width="1.90"/>
<line x1="445.20" y1="397.60" x2="445.20" y2="402.60" stroke-width="1.90"/>
<line x1="448.00" y1="397.60" x2="448.00" y2="402.60" stroke-width="1.90"/>
<line x1="449.30" y1="397.60" x2="449.30" y2="402.60" stroke-width="1.90"/>
<line x1="450.70" y1="397.60" x2="450.70" y2="402.60" stroke-width="1.90"/>
<line x1="459.00" y1="397.60" x2="459.00" y2="402.60" stroke-width="1.90"/>
<line x1="466.00" y1="397.60" x2="466.00" y2="402.60" stroke-width="1.90"/>
<line x1="473.60" y1="397.60" x2="473.60" y2="402.60" stroke-width="1.90"/>
<line x1="475.00" y1="397.60" x2="475.00" y2="402.60" stroke-width="1.90"/>
<line x1="477.70" y1="397.60" x2="477.70" y2="402.60" stroke-width="1.90"/>
<line x1="480.50" y1="397.60" x2="480.50" y2="402.60" stroke-width="1.90"/>
<path d="M284.90 378.30 H288.50 V380.00 H292.00 V382.40 H296.50 V383.20 H298.00 V385.80 H301.00 V389.00 H303.50 V392.20 H305.00 V394.50 H307.00 V396.20 H310.40 V396.80 H313.00 V398.50 H315.00 V402.00 H316.70 V405.40 H318.40 V410.00 H322.00 V412.00 H337.80 V414.80 H375.00 V417.00 H380.00 V418.00 H383.60 V418.80 H388.00 V420.50 H391.40 V422.20 H394.00 V424.00 H395.70 V429.20 H464.60" stroke-width="1.95" fill="none"/>
<line x1="324.80" y1="409.50" x2="324.80" y2="414.50" stroke-width="1.90"/>
<line x1="330.60" y1="409.50" x2="330.60" y2="414.50" stroke-width="1.90"/>
<line x1="344.70" y1="412.30" x2="344.70" y2="417.30" stroke-width="1.90"/>
<line x1="346.50" y1="412.30" x2="346.50" y2="417.30" stroke-width="1.90"/>
<line x1="348.50" y1="412.30" x2="348.50" y2="417.30" stroke-width="1.90"/>
<line x1="352.50" y1="412.30" x2="352.50" y2="417.30" stroke-width="1.90"/>
<line x1="362.00" y1="412.30" x2="362.00" y2="417.30" stroke-width="1.90"/>
<line x1="372.40" y1="412.30" x2="372.40" y2="417.30" stroke-width="1.90"/>
<line x1="375.00" y1="414.50" x2="375.00" y2="419.50" stroke-width="1.90"/>
<line x1="380.50" y1="415.50" x2="380.50" y2="420.50" stroke-width="1.90"/>
<line x1="382.50" y1="415.50" x2="382.50" y2="420.50" stroke-width="1.90"/>
<line x1="389.00" y1="418.00" x2="389.00" y2="423.00" stroke-width="1.90"/>
<line x1="390.50" y1="418.00" x2="390.50" y2="423.00" stroke-width="1.90"/>
<line x1="392.00" y1="419.70" x2="392.00" y2="424.70" stroke-width="1.90"/>
<line x1="404.40" y1="426.70" x2="404.40" y2="431.70" stroke-width="1.90"/>
<line x1="411.00" y1="426.70" x2="411.00" y2="431.70" stroke-width="1.90"/>
<line x1="413.50" y1="426.70" x2="413.50" y2="431.70" stroke-width="1.90"/>
<line x1="436.90" y1="426.70" x2="436.90" y2="431.70" stroke-width="1.90"/>
<line x1="439.60" y1="426.70" x2="439.60" y2="431.70" stroke-width="1.90"/>
<line x1="444.50" y1="426.70" x2="444.50" y2="431.70" stroke-width="1.90"/>
<line x1="445.80" y1="426.70" x2="445.80" y2="431.70" stroke-width="1.90"/>
<line x1="447.20" y1="426.70" x2="447.20" y2="431.70" stroke-width="1.90"/>
<line x1="452.10" y1="426.70" x2="452.10" y2="431.70" stroke-width="1.90"/>
<line x1="455.50" y1="426.70" x2="455.50" y2="431.70" stroke-width="1.90"/>
<line x1="461.80" y1="426.70" x2="461.80" y2="431.70" stroke-width="1.90"/>
<text x="447.27" y="395.00" font-size="12.03" font-weight="normal" textLength="32.98" lengthAdjust="spacingAndGlyphs" class="gl">&gt;50%</text>
<text x="418.87" y="447.90" font-size="11.60" font-weight="normal" textLength="32.98" lengthAdjust="spacingAndGlyphs" class="gl">&lt;50%</text>
<line x1="419.10" y1="450.00" x2="426.30" y2="450.00" stroke-width="1.40"/>
<line x1="35.60" y1="547.60" x2="35.60" y2="664.10" stroke-width="2.30"/>
<line x1="32.60" y1="548.40" x2="35.60" y2="548.40" stroke-width="1.50"/>
<text x="7.76" y="551.62" font-size="7.80" font-weight="bold" textLength="19.95" lengthAdjust="spacingAndGlyphs">100%</text>
<line x1="32.60" y1="571.42" x2="35.60" y2="571.42" stroke-width="1.50"/>
<text x="12.09" y="574.64" font-size="7.80" font-weight="bold" textLength="15.61" lengthAdjust="spacingAndGlyphs">80%</text>
<line x1="32.60" y1="594.44" x2="35.60" y2="594.44" stroke-width="1.50"/>
<text x="12.09" y="597.66" font-size="7.80" font-weight="bold" textLength="15.61" lengthAdjust="spacingAndGlyphs">60%</text>
<line x1="32.60" y1="617.46" x2="35.60" y2="617.46" stroke-width="1.50"/>
<text x="12.09" y="620.68" font-size="7.80" font-weight="bold" textLength="15.61" lengthAdjust="spacingAndGlyphs">40%</text>
<line x1="32.60" y1="640.48" x2="35.60" y2="640.48" stroke-width="1.50"/>
<text x="12.09" y="643.70" font-size="7.80" font-weight="bold" textLength="15.61" lengthAdjust="spacingAndGlyphs">20%</text>
<line x1="32.60" y1="663.50" x2="35.60" y2="663.50" stroke-width="1.50"/>
<text x="16.43" y="666.72" font-size="7.80" font-weight="bold" textLength="11.27" lengthAdjust="spacingAndGlyphs">0%</text>
<line x1="34.80" y1="668.40" x2="230.50" y2="668.40" stroke-width="2.40"/>
<line x1="36.00" y1="668.40" x2="36.00" y2="671.00" stroke-width="1.50"/>
<text x="33.84" y="685.32" font-size="7.80" font-weight="bold" textLength="4.34" lengthAdjust="spacingAndGlyphs">0</text>
<line x1="70.20" y1="668.40" x2="70.20" y2="671.00" stroke-width="1.50"/>
<text x="67.89" y="685.32" font-size="7.80" font-weight="bold" textLength="4.34" lengthAdjust="spacingAndGlyphs">1</text>
<line x1="104.40" y1="668.40" x2="104.40" y2="671.00" stroke-width="1.50"/>
<text x="102.25" y="685.32" font-size="7.80" font-weight="bold" textLength="4.34" lengthAdjust="spacingAndGlyphs">2</text>
<line x1="138.60" y1="668.40" x2="138.60" y2="671.00" stroke-width="1.50"/>
<text x="136.48" y="685.32" font-size="7.80" font-weight="bold" textLength="4.34" lengthAdjust="spacingAndGlyphs">3</text>
<line x1="172.80" y1="668.40" x2="172.80" y2="671.00" stroke-width="1.50"/>
<text x="170.59" y="685.32" font-size="7.80" font-weight="bold" textLength="4.34" lengthAdjust="spacingAndGlyphs">4</text>
<line x1="207.00" y1="668.40" x2="207.00" y2="671.00" stroke-width="1.50"/>
<text x="204.82" y="685.32" font-size="7.80" font-weight="bold" textLength="4.34" lengthAdjust="spacingAndGlyphs">5</text>
<text x="88.81" y="546.80" font-size="12.14" font-weight="bold" textLength="10.59" lengthAdjust="spacingAndGlyphs">iii</text>
<text x="105.95" y="546.80" font-size="12.60" font-weight="bold" textLength="44.02" lengthAdjust="spacingAndGlyphs">C-MYC</text>
<path d="M35.60 548.90 H46.80 V551.00 H48.50 V553.00 H50.30 V554.50 H52.60 V555.80 H54.30 V557.20 H57.80 V558.30 H60.10 V559.30 H63.00 V560.50 H65.30 V562.20 H67.60 V564.50 H68.80 V565.70 H137.60 V568.40 H141.00 V571.00 H145.40 V579.20 H225.30" stroke-width="1.95" fill="none"/>
<line x1="36.50" y1="546.40" x2="36.50" y2="551.40" stroke-width="1.90"/>
<line x1="39.40" y1="546.40" x2="39.40" y2="551.40" stroke-width="1.90"/>
<line x1="57.30" y1="554.70" x2="57.30" y2="559.70" stroke-width="1.90"/>
<line x1="58.30" y1="555.80" x2="58.30" y2="560.80" stroke-width="1.90"/>
<line x1="78.00" y1="563.20" x2="78.00" y2="568.20" stroke-width="1.90"/>
<line x1="83.70" y1="563.20" x2="83.70" y2="568.20" stroke-width="1.90"/>
<line x1="95.00" y1="563.20" x2="95.00" y2="568.20" stroke-width="1.90"/>
<line x1="96.50" y1="563.20" x2="96.50" y2="568.20" stroke-width="1.90"/>
<line x1="98.00" y1="563.20" x2="98.00" y2="568.20" stroke-width="1.90"/>
<line x1="99.50" y1="563.20" x2="99.50" y2="568.20" stroke-width="1.90"/>
<line x1="101.20" y1="563.20" x2="101.20" y2="568.20" stroke-width="1.90"/>
<line x1="104.70" y1="563.20" x2="104.70" y2="568.20" stroke-width="1.90"/>
<line x1="108.20" y1="563.20" x2="108.20" y2="568.20" stroke-width="1.90"/>
<line x1="113.40" y1="563.20" x2="113.40" y2="568.20" stroke-width="1.90"/>
<line x1="119.40" y1="563.20" x2="119.40" y2="568.20" stroke-width="1.90"/>
<line x1="123.00" y1="563.20" x2="123.00" y2="568.20" stroke-width="1.90"/>
<line x1="124.50" y1="563.20" x2="124.50" y2="568.20" stroke-width="1.90"/>
<line x1="126.00" y1="563.20" x2="126.00" y2="568.20" stroke-width="1.90"/>
<line x1="127.50" y1="563.20" x2="127.50" y2="568.20" stroke-width="1.90"/>
<line x1="129.00" y1="563.20" x2="129.00" y2="568.20" stroke-width="1.90"/>
<line x1="130.50" y1="563.20" x2="130.50" y2="568.20" stroke-width="1.90"/>
<line x1="135.00" y1="563.20" x2="135.00" y2="568.20" stroke-width="1.90"/>
<line x1="141.90" y1="568.50" x2="141.90" y2="573.50" stroke-width="1.90"/>
<line x1="153.50" y1="576.70" x2="153.50" y2="581.70" stroke-width="1.90"/>
<line x1="154.50" y1="576.70" x2="154.50" y2="581.70" stroke-width="1.90"/>
<line x1="157.80" y1="576.70" x2="157.80" y2="581.70" stroke-width="1.90"/>
<line x1="163.80" y1="576.70" x2="163.80" y2="581.70" stroke-width="1.90"/>
<line x1="189.80" y1="576.70" x2="189.80" y2="581.70" stroke-width="1.90"/>
<line x1="195.00" y1="576.70" x2="195.00" y2="581.70" stroke-width="1.90"/>
<line x1="197.60" y1="576.70" x2="197.60" y2="581.70" stroke-width="1.90"/>
<line x1="200.20" y1="576.70" x2="200.20" y2="581.70" stroke-width="1.90"/>
<line x1="202.80" y1="576.70" x2="202.80" y2="581.70" stroke-width="1.90"/>
<line x1="212.30" y1="576.70" x2="212.30" y2="581.70" stroke-width="1.90"/>
<line x1="224.40" y1="576.70" x2="224.40" y2="581.70" stroke-width="1.90"/>
<path d="M35.60 548.40 H36.50 V551.00 H38.50 V553.50 H40.80 V556.40 H46.80 V557.20 H48.00 V558.30 H50.30 V560.50 H53.20 V562.80 H54.90 V565.60 H56.10 V568.50 H58.40 V570.80 H60.70 V572.60 H62.40 V575.40 H64.70 V577.80 H67.00 V579.50 H69.30 V581.20 H72.20 V583.00 H74.50 V584.70 H76.80 V585.80 H87.20 V587.00 H88.40 V589.60 H128.90 V592.00 H231.30" stroke-width="1.95" fill="none"/>
<line x1="42.00" y1="553.90" x2="42.00" y2="558.90" stroke-width="1.90"/>
<line x1="67.00" y1="577.00" x2="67.00" y2="582.00" stroke-width="1.90"/>
<line x1="68.50" y1="577.00" x2="68.50" y2="582.00" stroke-width="1.90"/>
<line x1="78.00" y1="583.30" x2="78.00" y2="588.30" stroke-width="1.90"/>
<line x1="80.00" y1="583.30" x2="80.00" y2="588.30" stroke-width="1.90"/>
<line x1="81.50" y1="583.30" x2="81.50" y2="588.30" stroke-width="1.90"/>
<line x1="93.50" y1="587.10" x2="93.50" y2="592.10" stroke-width="1.90"/>
<line x1="97.80" y1="587.10" x2="97.80" y2="592.10" stroke-width="1.90"/>
<line x1="101.20" y1="587.10" x2="101.20" y2="592.10" stroke-width="1.90"/>
<line x1="106.50" y1="587.10" x2="106.50" y2="592.10" stroke-width="1.90"/>
<line x1="108.00" y1="587.10" x2="108.00" y2="592.10" stroke-width="1.90"/>
<line x1="116.00" y1="587.10" x2="116.00" y2="592.10" stroke-width="1.90"/>
<line x1="123.70" y1="587.10" x2="123.70" y2="592.10" stroke-width="1.90"/>
<line x1="140.20" y1="589.50" x2="140.20" y2="594.50" stroke-width="1.90"/>
<line x1="142.80" y1="589.50" x2="142.80" y2="594.50" stroke-width="1.90"/>
<line x1="145.50" y1="589.50" x2="145.50" y2="594.50" stroke-width="1.90"/>
<line x1="147.00" y1="589.50" x2="147.00" y2="594.50" stroke-width="1.90"/>
<line x1="154.90" y1="589.50" x2="154.90" y2="594.50" stroke-width="1.90"/>
<line x1="161.00" y1="589.50" x2="161.00" y2="594.50" stroke-width="1.90"/>
<line x1="187.20" y1="589.50" x2="187.20" y2="594.50" stroke-width="1.90"/>
<line x1="195.00" y1="589.50" x2="195.00" y2="594.50" stroke-width="1.90"/>
<line x1="196.70" y1="589.50" x2="196.70" y2="594.50" stroke-width="1.90"/>
<line x1="200.20" y1="589.50" x2="200.20" y2="594.50" stroke-width="1.90"/>
<line x1="209.70" y1="589.50" x2="209.70" y2="594.50" stroke-width="1.90"/>
<line x1="215.70" y1="589.50" x2="215.70" y2="594.50" stroke-width="1.90"/>
<line x1="224.40" y1="589.50" x2="224.40" y2="594.50" stroke-width="1.90"/>
<line x1="227.90" y1="589.50" x2="227.90" y2="594.50" stroke-width="1.90"/>
<line x1="230.40" y1="589.50" x2="230.40" y2="594.50" stroke-width="1.90"/>
<text x="186.56" y="567.40" font-size="12.46" font-weight="normal" textLength="33.81" lengthAdjust="spacingAndGlyphs" class="gl">&gt;50%</text>
<text x="186.56" y="612.90" font-size="12.46" font-weight="normal" textLength="33.71" lengthAdjust="spacingAndGlyphs" class="gl">&lt;50%</text>
<line x1="186.80" y1="614.90" x2="194.13" y2="614.90" stroke-width="1.40"/>
<rect x="277.90" y="539.30" width="241.10" height="136.00" fill="none" stroke-width="2.20"/>
<g style="stroke:#2a2a2a">
<line x1="277.90" y1="561.70" x2="519.00" y2="561.70" stroke-width="1.90"/>
<line x1="277.90" y1="584.20" x2="519.00" y2="584.20" stroke-width="1.90"/>
<line x1="277.90" y1="606.90" x2="519.00" y2="606.90" stroke-width="1.90"/>
<line x1="277.90" y1="630.00" x2="519.00" y2="630.00" stroke-width="1.90"/>
<line x1="277.90" y1="652.60" x2="519.00" y2="652.60" stroke-width="1.90"/>
</g><g style="stroke:#3c3c3c">
<line x1="350.50" y1="539.30" x2="350.50" y2="675.30" stroke-width="1.90"/>
<line x1="432.20" y1="561.70" x2="432.20" y2="675.30" stroke-width="1.90"/>
<line x1="396.20" y1="584.20" x2="396.20" y2="675.30" stroke-width="1.90"/>
<line x1="478.00" y1="584.20" x2="478.00" y2="675.30" stroke-width="1.90"/>
</g>
<text x="370.25" y="554.80" font-size="12.90" font-weight="bold" textLength="129.03" lengthAdjust="spacingAndGlyphs">EXPRESSION LEVEL</text>
<text x="378.01" y="577.00" font-size="12.90" font-weight="bold" textLength="25.79" lengthAdjust="spacingAndGlyphs">Low</text>
<text x="461.24" y="577.00" font-size="12.90" font-weight="bold" textLength="28.66" lengthAdjust="spacingAndGlyphs">High</text>
<text x="358.59" y="600.00" font-size="12.90" font-weight="bold" textLength="29.39" lengthAdjust="spacingAndGlyphs">5-YR</text>
<text x="409.55" y="600.00" font-size="12.90" font-weight="bold" textLength="9.32" lengthAdjust="spacingAndGlyphs">N</text>
<text x="440.34" y="600.00" font-size="12.90" font-weight="bold" textLength="29.39" lengthAdjust="spacingAndGlyphs">5-YR</text>
<text x="493.85" y="600.00" font-size="12.90" font-weight="bold" textLength="9.32" lengthAdjust="spacingAndGlyphs">N</text>
<text x="282.94" y="622.90" font-size="12.90" font-weight="bold" textLength="58.76" lengthAdjust="spacingAndGlyphs">HLA-DRB</text>
<text x="360.41" y="622.90" font-size="12.90" font-weight="bold" textLength="25.82" lengthAdjust="spacingAndGlyphs">56%</text>
<text x="407.04" y="622.90" font-size="12.90" font-weight="bold" textLength="14.35" lengthAdjust="spacingAndGlyphs">29</text>
<text x="442.08" y="622.90" font-size="12.90" font-weight="bold" textLength="25.82" lengthAdjust="spacingAndGlyphs">72%</text>
<text x="491.40" y="622.90" font-size="12.90" font-weight="bold" textLength="14.35" lengthAdjust="spacingAndGlyphs">87</text>
<text x="282.94" y="646.00" font-size="12.90" font-weight="bold" textLength="33.69" lengthAdjust="spacingAndGlyphs">BCL6</text>
<text x="360.41" y="646.00" font-size="12.90" font-weight="bold" textLength="25.82" lengthAdjust="spacingAndGlyphs">56%</text>
<text x="407.03" y="646.00" font-size="12.90" font-weight="bold" textLength="14.35" lengthAdjust="spacingAndGlyphs">58</text>
<text x="442.16" y="646.00" font-size="12.90" font-weight="bold" textLength="25.82" lengthAdjust="spacingAndGlyphs">82%</text>
<text x="491.33" y="646.00" font-size="12.90" font-weight="bold" textLength="14.35" lengthAdjust="spacingAndGlyphs">58</text>
<text x="283.30" y="668.30" font-size="12.90" font-weight="bold" textLength="40.14" lengthAdjust="spacingAndGlyphs">c-MYC</text>
<text x="360.33" y="668.30" font-size="12.90" font-weight="bold" textLength="25.82" lengthAdjust="spacingAndGlyphs">74%</text>
<text x="407.03" y="668.30" font-size="12.90" font-weight="bold" textLength="14.35" lengthAdjust="spacingAndGlyphs">58</text>
<text x="442.12" y="668.30" font-size="12.90" font-weight="bold" textLength="25.82" lengthAdjust="spacingAndGlyphs">62%</text>
<text x="491.33" y="668.30" font-size="12.90" font-weight="bold" textLength="14.35" lengthAdjust="spacingAndGlyphs">58</text>
</svg>
</body></html>
